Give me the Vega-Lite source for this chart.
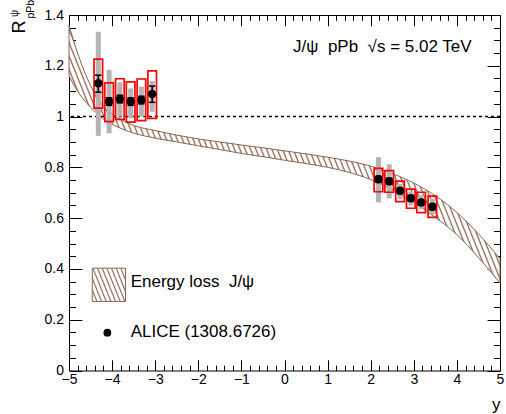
{
"$schema": "https://vega.github.io/schema/vega-lite/v6.json",
"width": 431, "height": 355.5,
"autosize": {"type": "none"},
"padding": {"left": 69, "top": 15, "right": 6, "bottom": 43.5},
"background": "white",
"config": {"view": {"stroke": null}, "font": "Liberation Sans",
 "scale": {"continuousPadding": 0},
 "axis": {"domainColor": "black", "tickColor": "black", "labelColor": "black", "titleColor": "black", "labelFont": "Liberation Sans", "titleFont": "Liberation Sans", "grid": false, "labelFlush": false, "labelOverlap": false, "labelBound": false, "zindex": 1, "tickWidth": 1, "domainWidth": 1, "labelFontSize": 14, "titleFontSize": 17, "titleFontWeight": "normal"}},
"data": {"values": [{}]},
"datasets": {
 "alice": [
  {"x": -4.32, "y": 1.131, "stlo": 1.096, "sthi": 1.163, "slo": 1.033, "shi": 1.226, "ulo": 0.924, "uhi": 1.334},
  {"x": -4.07, "y": 1.059, "stlo": 1.044, "sthi": 1.074, "slo": 0.980, "shi": 1.133, "ulo": 0.934, "uhi": 1.184},
  {"x": -3.82, "y": 1.069, "stlo": 1.054, "sthi": 1.084, "slo": 0.989, "shi": 1.149, "ulo": 1.000, "uhi": 1.135},
  {"x": -3.57, "y": 1.059, "stlo": 1.044, "sthi": 1.074, "slo": 0.978, "shi": 1.137, "ulo": 0.993, "uhi": 1.111},
  {"x": -3.32, "y": 1.065, "stlo": 1.050, "sthi": 1.080, "slo": 0.984, "shi": 1.148, "ulo": 1.000, "uhi": 1.118},
  {"x": -3.07, "y": 1.089, "stlo": 1.056, "sthi": 1.120, "slo": 0.993, "shi": 1.180, "ulo": 1.019, "uhi": 1.140},
  {"x": 2.18, "y": 0.753, "stlo": 0.741, "sthi": 0.765, "slo": 0.704, "shi": 0.796, "ulo": 0.662, "uhi": 0.840},
  {"x": 2.43, "y": 0.745, "stlo": 0.733, "sthi": 0.757, "slo": 0.702, "shi": 0.787, "ulo": 0.678, "uhi": 0.812},
  {"x": 2.68, "y": 0.708, "stlo": 0.697, "sthi": 0.719, "slo": 0.665, "shi": 0.746, "ulo": 0.675, "uhi": 0.735},
  {"x": 2.93, "y": 0.678, "stlo": 0.667, "sthi": 0.689, "slo": 0.639, "shi": 0.714, "ulo": 0.650, "uhi": 0.705},
  {"x": 3.17, "y": 0.662, "stlo": 0.651, "sthi": 0.673, "slo": 0.622, "shi": 0.702, "ulo": 0.635, "uhi": 0.690},
  {"x": 3.43, "y": 0.645, "stlo": 0.634, "sthi": 0.656, "slo": 0.603, "shi": 0.687, "ulo": 0.615, "uhi": 0.675}
 ],
 "band": [
  {"x": -5.0, "lo": 1.16, "hi": 1.36},
  {"x": -4.8, "lo": 1.10, "hi": 1.25},
  {"x": -4.6, "lo": 1.055, "hi": 1.16},
  {"x": -4.4, "lo": 1.02, "hi": 1.09},
  {"x": -4.2, "lo": 0.99, "hi": 1.04},
  {"x": -4.0, "lo": 0.97, "hi": 1.01},
  {"x": -3.75, "lo": 0.95, "hi": 0.985},
  {"x": -3.5, "lo": 0.935, "hi": 0.965},
  {"x": -3.0, "lo": 0.915, "hi": 0.945},
  {"x": -2.5, "lo": 0.90, "hi": 0.927},
  {"x": -2.0, "lo": 0.885, "hi": 0.912},
  {"x": -1.5, "lo": 0.87, "hi": 0.90},
  {"x": -1.0, "lo": 0.855, "hi": 0.888},
  {"x": -0.5, "lo": 0.842, "hi": 0.877},
  {"x": 0.0, "lo": 0.828, "hi": 0.865},
  {"x": 0.5, "lo": 0.815, "hi": 0.853},
  {"x": 1.0, "lo": 0.800, "hi": 0.840},
  {"x": 1.5, "lo": 0.780, "hi": 0.825},
  {"x": 2.0, "lo": 0.752, "hi": 0.805},
  {"x": 2.5, "lo": 0.712, "hi": 0.776},
  {"x": 3.0, "lo": 0.662, "hi": 0.738},
  {"x": 3.5, "lo": 0.603, "hi": 0.688},
  {"x": 4.0, "lo": 0.535, "hi": 0.622},
  {"x": 4.5, "lo": 0.445, "hi": 0.538},
  {"x": 5.0, "lo": 0.345, "hi": 0.44}
 ]
},
"resolve": {"axis": {"x": "independent", "y": "independent"}},
"layer": [
 {
  "data": {"name": "band"},
  "mark": {"type": "area", "interpolate": "monotone", "stroke": "#8a6550", "strokeWidth": 1,
   "fill": {"gradient": "linear", "x1": 0, "y1": 1, "x2": 1.1721, "y2": 0.7196, "stops": [
{"offset":0,"color":"#8a6550"},{"offset":0.0025,"color":"#fff"},{"offset":0.0075,"color":"#fff"},
{"offset":0.01,"color":"#8a6550"},{"offset":0.0125,"color":"#fff"},{"offset":0.0175,"color":"#fff"},
{"offset":0.02,"color":"#8a6550"},{"offset":0.0225,"color":"#fff"},{"offset":0.0275,"color":"#fff"},
{"offset":0.03,"color":"#8a6550"},{"offset":0.0325,"color":"#fff"},{"offset":0.0375,"color":"#fff"},
{"offset":0.04,"color":"#8a6550"},{"offset":0.0425,"color":"#fff"},{"offset":0.0475,"color":"#fff"},
{"offset":0.05,"color":"#8a6550"},{"offset":0.0525,"color":"#fff"},{"offset":0.0575,"color":"#fff"},
{"offset":0.06,"color":"#8a6550"},{"offset":0.0625,"color":"#fff"},{"offset":0.0675,"color":"#fff"},
{"offset":0.07,"color":"#8a6550"},{"offset":0.0725,"color":"#fff"},{"offset":0.0775,"color":"#fff"},
{"offset":0.08,"color":"#8a6550"},{"offset":0.0825,"color":"#fff"},{"offset":0.0875,"color":"#fff"},
{"offset":0.09,"color":"#8a6550"},{"offset":0.0925,"color":"#fff"},{"offset":0.0975,"color":"#fff"},
{"offset":0.10,"color":"#8a6550"},{"offset":0.1025,"color":"#fff"},{"offset":0.1075,"color":"#fff"},
{"offset":0.11,"color":"#8a6550"},{"offset":0.1125,"color":"#fff"},{"offset":0.1175,"color":"#fff"},
{"offset":0.12,"color":"#8a6550"},{"offset":0.1225,"color":"#fff"},{"offset":0.1275,"color":"#fff"},
{"offset":0.13,"color":"#8a6550"},{"offset":0.1325,"color":"#fff"},{"offset":0.1375,"color":"#fff"},
{"offset":0.14,"color":"#8a6550"},{"offset":0.1425,"color":"#fff"},{"offset":0.1475,"color":"#fff"},
{"offset":0.15,"color":"#8a6550"},{"offset":0.1525,"color":"#fff"},{"offset":0.1575,"color":"#fff"},
{"offset":0.16,"color":"#8a6550"},{"offset":0.1625,"color":"#fff"},{"offset":0.1675,"color":"#fff"},
{"offset":0.17,"color":"#8a6550"},{"offset":0.1725,"color":"#fff"},{"offset":0.1775,"color":"#fff"},
{"offset":0.18,"color":"#8a6550"},{"offset":0.1825,"color":"#fff"},{"offset":0.1875,"color":"#fff"},
{"offset":0.19,"color":"#8a6550"},{"offset":0.1925,"color":"#fff"},{"offset":0.1975,"color":"#fff"},
{"offset":0.20,"color":"#8a6550"},{"offset":0.2025,"color":"#fff"},{"offset":0.2075,"color":"#fff"},
{"offset":0.21,"color":"#8a6550"},{"offset":0.2125,"color":"#fff"},{"offset":0.2175,"color":"#fff"},
{"offset":0.22,"color":"#8a6550"},{"offset":0.2225,"color":"#fff"},{"offset":0.2275,"color":"#fff"},
{"offset":0.23,"color":"#8a6550"},{"offset":0.2325,"color":"#fff"},{"offset":0.2375,"color":"#fff"},
{"offset":0.24,"color":"#8a6550"},{"offset":0.2425,"color":"#fff"},{"offset":0.2475,"color":"#fff"},
{"offset":0.25,"color":"#8a6550"},{"offset":0.2525,"color":"#fff"},{"offset":0.2575,"color":"#fff"},
{"offset":0.26,"color":"#8a6550"},{"offset":0.2625,"color":"#fff"},{"offset":0.2675,"color":"#fff"},
{"offset":0.27,"color":"#8a6550"},{"offset":0.2725,"color":"#fff"},{"offset":0.2775,"color":"#fff"},
{"offset":0.28,"color":"#8a6550"},{"offset":0.2825,"color":"#fff"},{"offset":0.2875,"color":"#fff"},
{"offset":0.29,"color":"#8a6550"},{"offset":0.2925,"color":"#fff"},{"offset":0.2975,"color":"#fff"},
{"offset":0.30,"color":"#8a6550"},{"offset":0.3025,"color":"#fff"},{"offset":0.3075,"color":"#fff"},
{"offset":0.31,"color":"#8a6550"},{"offset":0.3125,"color":"#fff"},{"offset":0.3175,"color":"#fff"},
{"offset":0.32,"color":"#8a6550"},{"offset":0.3225,"color":"#fff"},{"offset":0.3275,"color":"#fff"},
{"offset":0.33,"color":"#8a6550"},{"offset":0.3325,"color":"#fff"},{"offset":0.3375,"color":"#fff"},
{"offset":0.34,"color":"#8a6550"},{"offset":0.3425,"color":"#fff"},{"offset":0.3475,"color":"#fff"},
{"offset":0.35,"color":"#8a6550"},{"offset":0.3525,"color":"#fff"},{"offset":0.3575,"color":"#fff"},
{"offset":0.36,"color":"#8a6550"},{"offset":0.3625,"color":"#fff"},{"offset":0.3675,"color":"#fff"},
{"offset":0.37,"color":"#8a6550"},{"offset":0.3725,"color":"#fff"},{"offset":0.3775,"color":"#fff"},
{"offset":0.38,"color":"#8a6550"},{"offset":0.3825,"color":"#fff"},{"offset":0.3875,"color":"#fff"},
{"offset":0.39,"color":"#8a6550"},{"offset":0.3925,"color":"#fff"},{"offset":0.3975,"color":"#fff"},
{"offset":0.40,"color":"#8a6550"},{"offset":0.4025,"color":"#fff"},{"offset":0.4075,"color":"#fff"},
{"offset":0.41,"color":"#8a6550"},{"offset":0.4125,"color":"#fff"},{"offset":0.4175,"color":"#fff"},
{"offset":0.42,"color":"#8a6550"},{"offset":0.4225,"color":"#fff"},{"offset":0.4275,"color":"#fff"},
{"offset":0.43,"color":"#8a6550"},{"offset":0.4325,"color":"#fff"},{"offset":0.4375,"color":"#fff"},
{"offset":0.44,"color":"#8a6550"},{"offset":0.4425,"color":"#fff"},{"offset":0.4475,"color":"#fff"},
{"offset":0.45,"color":"#8a6550"},{"offset":0.4525,"color":"#fff"},{"offset":0.4575,"color":"#fff"},
{"offset":0.46,"color":"#8a6550"},{"offset":0.4625,"color":"#fff"},{"offset":0.4675,"color":"#fff"},
{"offset":0.47,"color":"#8a6550"},{"offset":0.4725,"color":"#fff"},{"offset":0.4775,"color":"#fff"},
{"offset":0.48,"color":"#8a6550"},{"offset":0.4825,"color":"#fff"},{"offset":0.4875,"color":"#fff"},
{"offset":0.49,"color":"#8a6550"},{"offset":0.4925,"color":"#fff"},{"offset":0.4975,"color":"#fff"},
{"offset":0.50,"color":"#8a6550"},{"offset":0.5025,"color":"#fff"},{"offset":0.5075,"color":"#fff"},
{"offset":0.51,"color":"#8a6550"},{"offset":0.5125,"color":"#fff"},{"offset":0.5175,"color":"#fff"},
{"offset":0.52,"color":"#8a6550"},{"offset":0.5225,"color":"#fff"},{"offset":0.5275,"color":"#fff"},
{"offset":0.53,"color":"#8a6550"},{"offset":0.5325,"color":"#fff"},{"offset":0.5375,"color":"#fff"},
{"offset":0.54,"color":"#8a6550"},{"offset":0.5425,"color":"#fff"},{"offset":0.5475,"color":"#fff"},
{"offset":0.55,"color":"#8a6550"},{"offset":0.5525,"color":"#fff"},{"offset":0.5575,"color":"#fff"},
{"offset":0.56,"color":"#8a6550"},{"offset":0.5625,"color":"#fff"},{"offset":0.5675,"color":"#fff"},
{"offset":0.57,"color":"#8a6550"},{"offset":0.5725,"color":"#fff"},{"offset":0.5775,"color":"#fff"},
{"offset":0.58,"color":"#8a6550"},{"offset":0.5825,"color":"#fff"},{"offset":0.5875,"color":"#fff"},
{"offset":0.59,"color":"#8a6550"},{"offset":0.5925,"color":"#fff"},{"offset":0.5975,"color":"#fff"},
{"offset":0.60,"color":"#8a6550"},{"offset":0.6025,"color":"#fff"},{"offset":0.6075,"color":"#fff"},
{"offset":0.61,"color":"#8a6550"},{"offset":0.6125,"color":"#fff"},{"offset":0.6175,"color":"#fff"},
{"offset":0.62,"color":"#8a6550"},{"offset":0.6225,"color":"#fff"},{"offset":0.6275,"color":"#fff"},
{"offset":0.63,"color":"#8a6550"},{"offset":0.6325,"color":"#fff"},{"offset":0.6375,"color":"#fff"},
{"offset":0.64,"color":"#8a6550"},{"offset":0.6425,"color":"#fff"},{"offset":0.6475,"color":"#fff"},
{"offset":0.65,"color":"#8a6550"},{"offset":0.6525,"color":"#fff"},{"offset":0.6575,"color":"#fff"},
{"offset":0.66,"color":"#8a6550"},{"offset":0.6625,"color":"#fff"},{"offset":0.6675,"color":"#fff"},
{"offset":0.67,"color":"#8a6550"},{"offset":0.6725,"color":"#fff"},{"offset":0.6775,"color":"#fff"},
{"offset":0.68,"color":"#8a6550"},{"offset":0.6825,"color":"#fff"},{"offset":0.6875,"color":"#fff"},
{"offset":0.69,"color":"#8a6550"},{"offset":0.6925,"color":"#fff"},{"offset":0.6975,"color":"#fff"},
{"offset":0.70,"color":"#8a6550"},{"offset":0.7025,"color":"#fff"},{"offset":0.7075,"color":"#fff"},
{"offset":0.71,"color":"#8a6550"},{"offset":0.7125,"color":"#fff"},{"offset":0.7175,"color":"#fff"},
{"offset":0.72,"color":"#8a6550"},{"offset":0.7225,"color":"#fff"},{"offset":0.7275,"color":"#fff"},
{"offset":0.73,"color":"#8a6550"},{"offset":0.7325,"color":"#fff"},{"offset":0.7375,"color":"#fff"},
{"offset":0.74,"color":"#8a6550"},{"offset":0.7425,"color":"#fff"},{"offset":0.7475,"color":"#fff"},
{"offset":0.75,"color":"#8a6550"},{"offset":0.7525,"color":"#fff"},{"offset":0.7575,"color":"#fff"},
{"offset":0.76,"color":"#8a6550"},{"offset":0.7625,"color":"#fff"},{"offset":0.7675,"color":"#fff"},
{"offset":0.77,"color":"#8a6550"},{"offset":0.7725,"color":"#fff"},{"offset":0.7775,"color":"#fff"},
{"offset":0.78,"color":"#8a6550"},{"offset":0.7825,"color":"#fff"},{"offset":0.7875,"color":"#fff"},
{"offset":0.79,"color":"#8a6550"},{"offset":0.7925,"color":"#fff"},{"offset":0.7975,"color":"#fff"},
{"offset":0.80,"color":"#8a6550"},{"offset":0.8025,"color":"#fff"},{"offset":0.8075,"color":"#fff"},
{"offset":0.81,"color":"#8a6550"},{"offset":0.8125,"color":"#fff"},{"offset":0.8175,"color":"#fff"},
{"offset":0.82,"color":"#8a6550"},{"offset":0.8225,"color":"#fff"},{"offset":0.8275,"color":"#fff"},
{"offset":0.83,"color":"#8a6550"},{"offset":0.8325,"color":"#fff"},{"offset":0.8375,"color":"#fff"},
{"offset":0.84,"color":"#8a6550"},{"offset":0.8425,"color":"#fff"},{"offset":0.8475,"color":"#fff"},
{"offset":0.85,"color":"#8a6550"},{"offset":0.8525,"color":"#fff"},{"offset":0.8575,"color":"#fff"},
{"offset":0.86,"color":"#8a6550"},{"offset":0.8625,"color":"#fff"},{"offset":0.8675,"color":"#fff"},
{"offset":0.87,"color":"#8a6550"},{"offset":0.8725,"color":"#fff"},{"offset":0.8775,"color":"#fff"},
{"offset":0.88,"color":"#8a6550"},{"offset":0.8825,"color":"#fff"},{"offset":0.8875,"color":"#fff"},
{"offset":0.89,"color":"#8a6550"},{"offset":0.8925,"color":"#fff"},{"offset":0.8975,"color":"#fff"},
{"offset":0.90,"color":"#8a6550"},{"offset":0.9025,"color":"#fff"},{"offset":0.9075,"color":"#fff"},
{"offset":0.91,"color":"#8a6550"},{"offset":0.9125,"color":"#fff"},{"offset":0.9175,"color":"#fff"},
{"offset":0.92,"color":"#8a6550"},{"offset":0.9225,"color":"#fff"},{"offset":0.9275,"color":"#fff"},
{"offset":0.93,"color":"#8a6550"},{"offset":0.9325,"color":"#fff"},{"offset":0.9375,"color":"#fff"},
{"offset":0.94,"color":"#8a6550"},{"offset":0.9425,"color":"#fff"},{"offset":0.9475,"color":"#fff"},
{"offset":0.95,"color":"#8a6550"},{"offset":0.9525,"color":"#fff"},{"offset":0.9575,"color":"#fff"},
{"offset":0.96,"color":"#8a6550"},{"offset":0.9625,"color":"#fff"},{"offset":0.9675,"color":"#fff"},
{"offset":0.97,"color":"#8a6550"},{"offset":0.9725,"color":"#fff"},{"offset":0.9775,"color":"#fff"},
{"offset":0.98,"color":"#8a6550"},{"offset":0.9825,"color":"#fff"},{"offset":0.9875,"color":"#fff"},
{"offset":0.99,"color":"#8a6550"},{"offset":0.9925,"color":"#fff"},{"offset":0.9975,"color":"#fff"},
{"offset":1,"color":"#8a6550"}
   ]}},
  "encoding": {
   "x": {"field": "x", "type": "quantitative", "scale": {"domain": [-5, 5], "nice": false, "zero": false, "padding": 0},
    "axis": {"orient": "bottom",
     "values": [-5,-4.8,-4.6,-4.4,-4.2,-4,-3.8,-3.6,-3.4,-3.2,-3,-2.8,-2.6,-2.4,-2.2,-2,-1.8,-1.6,-1.4,-1.2,-1,-0.8,-0.6,-0.4,-0.2,0,0.2,0.4,0.6,0.8,1,1.2,1.4,1.6,1.8,2,2.2,2.4,2.6,2.8,3,3.2,3.4,3.6,3.8,4,4.2,4.4,4.6,4.8,5],
     "labelExpr": "abs(datum.value - round(datum.value)) < 0.001 ? format(round(datum.value), 'd') : ''",
     "tickSize": {"condition": {"test": "abs(datum.value - round(datum.value)) < 0.001", "value": -10.7}, "value": -5.3},
     "labelPadding": 13, "labelBaseline": "top",
     "title": "y", "titleX": 431, "titleY": 38.5, "titleAlign": "right", "titleBaseline": "alphabetic", "titleAngle": 0}},
   "y": {"field": "lo", "type": "quantitative", "scale": {"domain": [0, 1.4], "nice": false, "zero": false, "padding": 0},
    "axis": {"orient": "left",
     "values": [0,0.05,0.1,0.15,0.2,0.25,0.3,0.35,0.4,0.45,0.5,0.55,0.6,0.65,0.7,0.75,0.8,0.85,0.9,0.95,1,1.05,1.1,1.15,1.2,1.25,1.3,1.35,1.4],
     "labelExpr": "abs(datum.value*5 - round(datum.value*5)) < 0.001 ? format(datum.value, '~g') : ''",
     "tickSize": {"condition": {"test": "abs(datum.value*5 - round(datum.value*5)) < 0.001", "value": -12.9}, "value": -6.5},
     "labelPadding": 18.4,
     "title": null}},
   "y2": {"field": "hi"}
  }
 },
 {
  "mark": {"type": "rule", "color": "black", "strokeDash": [3, 3], "strokeWidth": 1.4},
  "encoding": {"y": {"datum": 1, "type": "quantitative", "axis": null}}
 },
 {
  "data": {"name": "alice"},
  "mark": {"type": "rule", "color": "#b4b4b4", "strokeWidth": 5},
  "encoding": {
   "x": {"field": "x", "type": "quantitative",
    "axis": {"orient": "top", "labels": false, "title": null,
     "values": [-5,-4.8,-4.6,-4.4,-4.2,-4,-3.8,-3.6,-3.4,-3.2,-3,-2.8,-2.6,-2.4,-2.2,-2,-1.8,-1.6,-1.4,-1.2,-1,-0.8,-0.6,-0.4,-0.2,0,0.2,0.4,0.6,0.8,1,1.2,1.4,1.6,1.8,2,2.2,2.4,2.6,2.8,3,3.2,3.4,3.6,3.8,4,4.2,4.4,4.6,4.8,5],
     "tickSize": {"condition": {"test": "abs(datum.value - round(datum.value)) < 0.001", "value": -10.7}, "value": -5.3}}},
   "y": {"field": "ulo", "type": "quantitative",
    "axis": {"orient": "right", "labels": false, "title": null,
     "values": [0,0.05,0.1,0.15,0.2,0.25,0.3,0.35,0.4,0.45,0.5,0.55,0.6,0.65,0.7,0.75,0.8,0.85,0.9,0.95,1,1.05,1.1,1.15,1.2,1.25,1.3,1.35,1.4],
     "tickSize": {"condition": {"test": "abs(datum.value*5 - round(datum.value*5)) < 0.001", "value": -12.9}, "value": -6.5}}},
   "y2": {"field": "uhi"}
  }
 },
 {
  "data": {"name": "alice"},
  "mark": {"type": "bar", "width": 8.6, "fill": "transparent", "stroke": "#ff0000", "strokeWidth": 1.7},
  "encoding": {
   "x": {"field": "x", "type": "quantitative", "axis": null},
   "y": {"field": "slo", "type": "quantitative", "axis": null},
   "y2": {"field": "shi"}
  }
 },
 {
  "data": {"name": "alice"},
  "mark": {"type": "rule", "color": "black", "strokeWidth": 1.5},
  "encoding": {
   "x": {"field": "x", "type": "quantitative", "axis": null},
   "y": {"field": "stlo", "type": "quantitative", "axis": null},
   "y2": {"field": "sthi"}
  }
 },
 {
  "data": {"name": "alice"},
  "mark": {"type": "tick", "orient": "horizontal", "color": "black", "size": 6.5, "thickness": 1.5, "opacity": 1},
  "encoding": {
   "x": {"field": "x", "type": "quantitative", "axis": null},
   "y": {"field": "sthi", "type": "quantitative", "axis": null}
  }
 },
 {
  "data": {"name": "alice"},
  "mark": {"type": "tick", "orient": "horizontal", "color": "black", "size": 6.5, "thickness": 1.5, "opacity": 1},
  "encoding": {
   "x": {"field": "x", "type": "quantitative", "axis": null},
   "y": {"field": "stlo", "type": "quantitative", "axis": null}
  }
 },
 {
  "data": {"name": "alice"},
  "mark": {"type": "point", "filled": true, "color": "black", "size": 72, "opacity": 1},
  "encoding": {
   "x": {"field": "x", "type": "quantitative", "axis": null},
   "y": {"field": "y", "type": "quantitative", "axis": null}
  }
 },
 {
  "mark": {"type": "rect", "stroke": "#8a6550", "strokeWidth": 1,
   "fill": {"gradient": "linear", "x1": 0, "y1": 1, "x2": 1.2069, "y2": 0.5158, "stops": [
{"offset":0,"color":"#8a6550"},{"offset":0.025,"color":"#fff"},{"offset":0.075,"color":"#fff"},
{"offset":0.1,"color":"#8a6550"},{"offset":0.125,"color":"#fff"},{"offset":0.175,"color":"#fff"},
{"offset":0.2,"color":"#8a6550"},{"offset":0.225,"color":"#fff"},{"offset":0.275,"color":"#fff"},
{"offset":0.3,"color":"#8a6550"},{"offset":0.325,"color":"#fff"},{"offset":0.375,"color":"#fff"},
{"offset":0.4,"color":"#8a6550"},{"offset":0.425,"color":"#fff"},{"offset":0.475,"color":"#fff"},
{"offset":0.5,"color":"#8a6550"},{"offset":0.525,"color":"#fff"},{"offset":0.575,"color":"#fff"},
{"offset":0.6,"color":"#8a6550"},{"offset":0.625,"color":"#fff"},{"offset":0.675,"color":"#fff"},
{"offset":0.7,"color":"#8a6550"},{"offset":0.725,"color":"#fff"},{"offset":0.775,"color":"#fff"},
{"offset":0.8,"color":"#8a6550"},{"offset":0.825,"color":"#fff"},{"offset":0.875,"color":"#fff"},
{"offset":0.9,"color":"#8a6550"},{"offset":0.925,"color":"#fff"},{"offset":0.975,"color":"#fff"},
{"offset":1,"color":"#8a6550"}
   ]}},
  "encoding": {
   "x": {"datum": -4.46, "type": "quantitative", "axis": null},
   "x2": {"datum": -3.69},
   "y": {"datum": 0.272, "type": "quantitative", "axis": null},
   "y2": {"datum": 0.403}
  }
 },
 {
  "mark": {"type": "point", "filled": true, "color": "black", "size": 60, "opacity": 1},
  "encoding": {
   "x": {"datum": -4.11, "type": "quantitative", "axis": null},
   "y": {"datum": 0.149, "type": "quantitative", "axis": null}
  }
 },
 {
  "mark": {"type": "text", "text": "Energy loss \u00a0J/ψ", "align": "left", "baseline": "middle", "fontSize": 17, "font": "Liberation Sans", "color": "black"},
  "encoding": {
   "x": {"datum": -3.57, "type": "quantitative", "axis": null},
   "y": {"datum": 0.35, "type": "quantitative", "axis": null}
  }
 },
 {
  "mark": {"type": "text", "text": "ALICE (1308.6726)", "align": "left", "baseline": "middle", "fontSize": 17, "font": "Liberation Sans", "color": "black"},
  "encoding": {
   "x": {"datum": -3.57, "type": "quantitative", "axis": null},
   "y": {"datum": 0.153, "type": "quantitative", "axis": null}
  }
 },
 {
  "mark": {"type": "text", "text": "J/ψ \u00a0pPb \u00a0√s = 5.02 TeV", "align": "left", "baseline": "middle", "fontSize": 17, "font": "Liberation Sans", "color": "black"},
  "encoding": {
   "x": {"datum": 0.2, "type": "quantitative", "axis": null},
   "y": {"datum": 1.275, "type": "quantitative", "axis": null}
  }
 },
 {
  "mark": {"type": "text", "text": "R", "align": "left", "baseline": "alphabetic", "angle": 270, "fontSize": 18, "font": "Liberation Sans", "color": "black"},
  "encoding": {
   "x": {"datum": -6.021, "type": "quantitative", "axis": null},
   "y": {"datum": 1.327, "type": "quantitative", "axis": null}
  }
 },
 {
  "mark": {"type": "text", "text": "pPb", "align": "left", "baseline": "alphabetic", "angle": 270, "fontSize": 10.5, "font": "Liberation Sans", "color": "black"},
  "encoding": {
   "x": {"datum": -5.812, "type": "quantitative", "axis": null},
   "y": {"datum": 1.386, "type": "quantitative", "axis": null}
  }
 },
 {
  "mark": {"type": "text", "text": "ψ", "align": "left", "baseline": "alphabetic", "angle": 270, "fontSize": 10, "font": "Liberation Sans", "color": "black"},
  "encoding": {
   "x": {"datum": -6.172, "type": "quantitative", "axis": null},
   "y": {"datum": 1.392, "type": "quantitative", "axis": null}
  }
 }
]
}
